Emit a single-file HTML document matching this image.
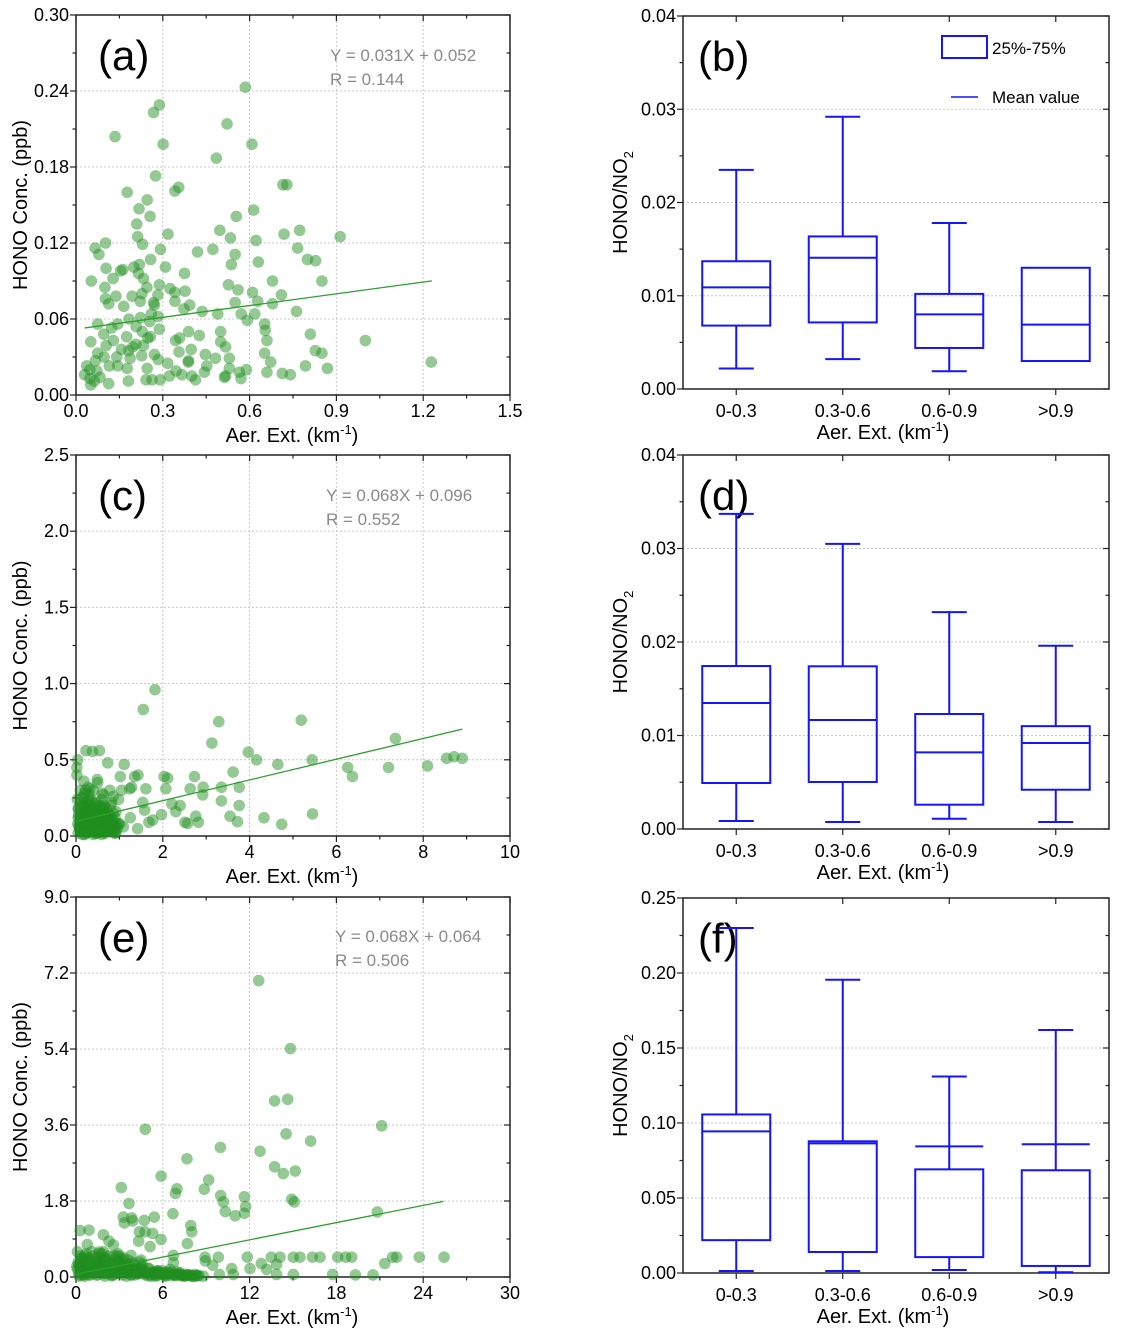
<!DOCTYPE html>
<html><head><meta charset="utf-8"><style>
body{margin:0;background:#fff}
svg{display:block;font-family:"Liberation Sans",sans-serif}
</style></head><body>
<svg id="fig" width="1122" height="1337" viewBox="0 0 1122 1337"></svg>
<script>
// ---------- DATA ----------
const aX=[.585,.288,.268,.135,.301,.522,.608,.485,.275,.355,.342,.177,.715,.729,.246,.218,.256,.614,.554,.210,.497,.773,.318,.719,.213,.913,.534,.622,.230,.102,.066,.292,.766,.079,.420,.473,.550,.258,.800,.828,.630,.537,.162,.200,.219,.309,.104,.154,.375,.216,.128,.233,.053,.679,.850,.288,.527,.100,.245,.325,.560,.377,.610,.710,.194,.228,.283,.138,.342,.102,.222,.268,.342,.550,.628,.679,.113,.165,.271,.393,.373,.436,.260,.762,.571,.618,.490,.284,.223,.183,.592,.255,.075,.144,.652,.123,.208,.288,.096,.229,.810,.500,.389,.654,.175,.257,.358,.426,.129,.051,.660,1.0,.104,.233,.517,.500,.196,.157,.356,.398,.075,.827,.850,.652,.447,.227,.482,.141,.187,.284,.530,.673,.067,.388,1.228,.317,.115,.452,.793,.869,.246,.048,.177,.346,.530,.589,.565,.660,.713,.741,.030,.083,.323,.366,.400,.513,.570,.242,.291,.413,.181,.113,.051,.063,.263,.444,.144,.271,.037,.048,.072,.182,.207,.248,.389,.517,.097,.344];
const aY=[.243,.229,.223,.204,.198,.214,.198,.187,.173,.164,.161,.160,.166,.166,.154,.147,.141,.146,.141,.135,.130,.130,.127,.127,.125,.125,.124,.122,.119,.120,.116,.115,.116,.111,.113,.115,.111,.107,.107,.106,.105,.103,.099,.101,.103,.101,.100,.098,.096,.096,.092,.092,.090,.090,.090,.087,.087,.085,.085,.084,.083,.082,.081,.079,.078,.080,.079,.078,.081,.076,.074,.073,.074,.073,.074,.072,.072,.070,.071,.071,.068,.066,.064,.066,.064,.064,.064,.062,.061,.060,.059,.058,.056,.056,.056,.053,.054,.052,.048,.050,.048,.050,.050,.051,.046,.046,.045,.047,.043,.042,.043,.043,.039,.039,.038,.042,.038,.036,.034,.036,.033,.035,.033,.033,.032,.031,.029,.030,.029,.028,.029,.026,.027,.026,.026,.025,.023,.023,.023,.021,.021,.020,.021,.019,.021,.020,.018,.018,.017,.016,.016,.014,.015,.016,.015,.014,.013,.012,.012,.012,.011,.009,.008,.011,.012,.018,.023,.032,.023,.013,.019,.035,.040,.045,.027,.015,.030,.043];
const cX=[1.82,1.55,3.29,5.19,7.36,3.13,.23,.38,.54,3.97,4.16,4.65,5.44,.73,1.11,6.26,6.37,7.20,8.10,8.54,8.71,8.90,3.62,1.35,1.43,1.02,2.03,2.11,2.73,.49,1.28,1.61,2.07,2.63,2.93,3.35,3.76,1.24,.78,.32,2.92,.63,.86,.98,3.35,1.54,2.21,2.40,3.76,1.58,2.30,1.97,3.55,5.45,4.33,2.76,1.25,1.77,1.68,2.51,2.57,2.82,3.72,4.74,1.42,1.01,1.09,
 .05,.08,.1,.12,.15,.18,.2,.22,.25,.28,.3,.32,.35,.38,.4,.42,.45,.48,.5,.52,.55,.58,.6,.62,.65,.68,.7,.72,.75,.78,.8,.85,.9,.95,.1,.15,.2,.3,.35,.45,.55,.6,.7,.8,.25,.4,.6,.15,.9,.05,.05,.3,.5,.65,.2,.28,.22,.1,.4,.5,.6,.18,
 .06,.09,.13,.16,.19,.23,.26,.29,.33,.36,.39,.43,.46,.49,.53,.56,.59,.63,.66,.69,.73,.76,.79,.83,.86,.89,.93,.07,.11,.14,.17,.21,.24,.27,.31,.34,.37,.41,.44,.47,.51,.54,.57,.61,.64,.67,.71,.74,.77,.81,.84,.04,.12,.2,.28,.36,.44,.52,.6,.68,.76,.84,.92,.16,.24,.32,.4,.48,.56,.64,.72,
 .08,.14,.2,.26,.32,.38,.44,.5,.56,.62,.68,.74,.8,.86,.92,.1,.17,.24,.31,.38,.45,.52,.59,.66,.73,.8,.87,.12,.22,.32,.42,.52,.62,.72,.82,.06,.18,.3,.42,.54,.66,.78,.9,.98,1.05,.02,.03,.04,.02,.03];
const cY=[.96,.83,.75,.76,.64,.61,.56,.555,.56,.55,.50,.47,.50,.48,.47,.45,.39,.45,.46,.51,.52,.51,.42,.39,.40,.39,.39,.38,.39,.37,.32,.31,.31,.31,.32,.32,.32,.31,.30,.31,.27,.27,.26,.24,.23,.22,.21,.20,.20,.17,.16,.14,.13,.145,.12,.13,.12,.105,.09,.09,.083,.09,.094,.077,.048,.08,.06,
 .02,.05,.1,.15,.08,.03,.12,.18,.06,.1,.15,.2,.04,.09,.13,.17,.07,.02,.11,.15,.05,.09,.13,.17,.03,.08,.12,.06,.1,.14,.04,.08,.12,.05,.22,.25,.28,.27,.24,.22,.2,.24,.18,.2,.02,.01,.01,.01,.02,.12,.18,.05,.02,.2,.06,.32,.3,.3,.3,.35,.28,.36,
 .14,.04,.19,.11,.05,.09,.15,.03,.12,.07,.18,.1,.02,.14,.08,.19,.06,.11,.16,.02,.09,.13,.05,.1,.15,.04,.08,.07,.03,.21,.12,.16,.08,.2,.03,.12,.17,.06,.1,.16,.13,.04,.11,.07,.19,.12,.04,.14,.09,.03,.11,.08,.06,.01,.23,.16,.09,.03,.14,.06,.1,.07,.02,.26,.22,.23,.18,.21,.16,.14,
 .1,.06,.13,.04,.1,.07,.12,.05,.09,.11,.04,.08,.1,.05,.07,.16,.12,.08,.14,.1,.06,.13,.09,.04,.11,.07,.05,.02,.03,.02,.03,.02,.03,.02,.04,.22,.18,.2,.16,.19,.15,.13,.1,.06,.08,.3,.4,.24,.5,.45];
const eX=[12.63,14.82,13.73,14.63,4.79,21.13,14.52,16.22,9.98,12.72,7.67,13.73,14.33,15.16,5.88,9.17,3.13,8.87,6.98,6.87,3.66,10.0,10.18,11.64,11.73,10.32,11.0,11.64,14.91,15.09,20.83,3.27,3.85,3.34,3.92,4.72,5.41,6.70,.28,.90,1.89,2.28,2.58,.78,4.38,4.78,4.33,5.30,5.12,5.88,7.93,8.0,7.70,1.61,2.81,3.80,6.73,8.92,9.84,11.84,13.5,14.1,15.02,15.48,16.34,16.87,18.09,18.64,19.06,21.89,22.17,23.73,25.44,21.34,12.81,13.18,13.87,9.45,8.94,10.76,12.03,9.91,17.74,19.31,20.53,15.02,13.87,10.87,6.73,5.69,
 .2,.4,.6,.8,1,1.2,1.4,1.6,1.8,2,2.2,2.4,2.6,2.8,3,3.2,3.4,3.6,3.8,4,4.2,4.5,4.8,5,5.3,5.6,6,6.3,6.6,7,7.3,7.6,8,8.4,8.8,.1,.3,.5,.7,.9,1.1,1.3,1.5,1.7,1.9,2.1,2.3,2.5,2.7,2.9,3.1,3.3,3.5,3.7,3.9,4.1,4.4,4.7,5.2,5.5,5.8,6.2,6.8,7.2,7.8,8.2,.3,.6,.15,.45,1.6,2.2,3,4.6,.05,
 .25,.55,.85,1.15,1.45,1.75,2.05,2.35,2.65,2.95,3.25,3.55,3.85,4.15,4.45,4.75,5.05,5.35,5.65,5.95,6.25,6.55,6.85,7.15,7.45,7.75,8.05,8.35,.5,1,1.5,2,2.5,3,3.5,4,4.5,5,5.5,6,6.5,7,7.5,.35,.75,1.25,1.85,2.45,3.05,3.65,4.25,.2,.6,1.0,1.4,1.8,2.6,3.4,
 .1,.4,.7,1.0,1.3,1.6,1.9,2.2,2.5,2.8,3.1,3.4,3.7,4.0,4.3,4.6,4.9,5.2,5.5,5.8,6.1,6.4,6.7,7.0,7.3,7.6,7.9,8.2,8.5,.2,.8,1.4,2.0,2.6,3.2,3.8,4.4,5.0,5.6,6.2,.5,1.1,1.7,2.3,2.9,3.5,.3,.9,1.5,2.1];
const eY=[7.02,5.41,4.17,4.21,3.50,3.58,3.39,3.22,3.07,2.98,2.80,2.61,2.45,2.51,2.39,2.30,2.12,2.08,2.09,1.98,1.74,1.93,1.78,1.90,1.67,1.55,1.45,1.51,1.84,1.78,1.54,1.42,1.40,1.28,1.33,1.34,1.42,1.50,1.10,1.11,1.00,.85,.76,.77,1.07,1.07,.85,1.03,.72,.89,1.22,1.07,.79,.59,.50,.51,.51,.47,.47,.47,.47,.47,.47,.47,.47,.47,.47,.47,.47,.47,.47,.47,.47,.32,.32,.18,.30,.28,.38,.20,.20,.06,.06,.05,.05,.06,.06,.06,.34,.14,
 .1,.3,.5,.2,.4,.1,.35,.55,.2,.45,.1,.3,.5,.15,.35,.05,.25,.4,.1,.3,.15,.25,.05,.2,.1,.15,.05,.12,.03,.08,.03,.06,.02,.04,.02,.6,.5,.2,.55,.05,.6,.25,.05,.4,.6,.25,.5,.05,.35,.55,.2,.45,.1,.2,.35,.05,.1,.15,.02,.05,.1,.02,.05,.1,.05,.06,.05,.02,.35,.45,.3,.35,.08,.3,.25,
 .25,.4,.12,.5,.22,.45,.08,.38,.18,.42,.12,.3,.05,.25,.18,.08,.2,.12,.04,.15,.08,.1,.04,.06,.03,.05,.02,.03,.05,.15,.28,.02,.2,.5,.02,.15,.4,.1,.02,.1,.18,.12,.02,.45,.15,.3,.08,.03,.2,.25,.08,.3,.35,.05,.45,.55,.12,.15,.18,
 .2,.15,.3,.1,.25,.2,.15,.3,.1,.25,.2,.12,.18,.08,.15,.1,.06,.12,.08,.05,.1,.06,.04,.05,.03,.04,.02,.03,.02,.4,.05,.45,.05,.4,.05,.35,.03,.08,.04,.06,.3,.4,.1,.35,.3,.25,.45,.15,.2,.1];
const boxCats=["0-0.3","0.3-0.6","0.6-0.9",">0.9"];
const bLow=[.0022,.0032,.0019,.0030], bQ1=[.0068,.00714,.0044,.0030], bMean=[.0109,.01407,.0080,.0069], bQ3=[.0137,.01636,.0102,.0130], bHigh=[.0235,.0292,.0178,.0130];
const dLow=[.00086,.00075,.0011,.00075], dQ1=[.00492,.00503,.0026,.0042], dMean=[.01348,.01166,.0082,.0092], dQ3=[.01743,.0174,.0123,.0110], dHigh=[.0337,.0305,.0232,.0196];
const fLow=[.0013,.0013,.002,.0005], fQ1=[.0219,.014,.0106,.0047], fMean=[.0944,.0864,.0844,.0858], fQ3=[.1057,.0878,.0691,.0685], fHigh=[.230,.1955,.131,.162];
const aTicksY=["0.00","0.06","0.12","0.18","0.24","0.30"], aTicksX=["0.0","0.3","0.6","0.9","1.2","1.5"];
const cTicksY=["0.0","0.5","1.0","1.5","2.0","2.5"], cTicksX=["0","2","4","6","8","10"];
const eTicksY=["0.0","1.8","3.6","5.4","7.2","9.0"], eTicksX=["0","6","12","18","24","30"];
const bTicksY=["0.00","0.01","0.02","0.03","0.04"], fTicksY=["0.00","0.05","0.10","0.15","0.20","0.25"];

// ---------- DRAW ----------
const svg=document.getElementById('fig');
const NS='http://www.w3.org/2000/svg';
function mk(tag,attrs,parent,text){const e=document.createElementNS(NS,tag);for(const k in attrs)e.setAttribute(k,attrs[k]);if(text!==undefined)e.textContent=text;(parent||svg).appendChild(e);return e;}

function axes(P,ticksX,ticksY,gridX,id){
  const g=mk('g',{});
  
  
  const nY=ticksY.length-1;
  for(let i=0;i<=nY*2;i++){
    const y=P.y0+(P.y1-P.y0)*i/(nY*2), major=i%2==0, L=major?6:3.5;
    if(major&&i>0&&i<nY*2) mk('line',{x1:P.x0,x2:P.x1,y1:y,y2:y,stroke:'#c8c8c8','stroke-dasharray':'2,2','stroke-width':1},g);
    mk('line',{x1:P.x0-L,x2:P.x0,y1:y,y2:y,stroke:'#222','stroke-width':1.2},g);
    mk('line',{x1:P.x1-L,x2:P.x1,y1:y,y2:y,stroke:'#222','stroke-width':1.2},g);
    if(major){const t=mk('text',{x:P.x0-7,y:y+6,'text-anchor':'end','font-size':18},g,ticksY[i/2]);
      
      }
  }
  if(ticksX){
    const nX=ticksX.length-1;
    for(let i=0;i<=nX*2;i++){
      const x=P.x0+(P.x1-P.x0)*i/(nX*2), major=i%2==0, L=major?6:3.5;
      if(gridX&&major&&i>0&&i<nX*2) mk('line',{x1:x,x2:x,y1:P.y0,y2:P.y1,stroke:'#c8c8c8','stroke-dasharray':'2,2','stroke-width':1},g);
      mk('line',{x1:x,x2:x,y1:P.y0,y2:P.y0+L,stroke:'#222','stroke-width':1.2},g);
      mk('line',{x1:x,x2:x,y1:P.y1,y2:P.y1+L,stroke:'#222','stroke-width':1.2},g);
      if(major){const t=mk('text',{x:x,y:P.y0+22,'text-anchor':'middle','font-size':18},g,ticksX[i/2]);
        
        }
    }
  }
  mk('rect',{x:P.x0,y:P.y1,width:P.x1-P.x0,height:P.y0-P.y1,fill:'none',stroke:'#222','stroke-width':1.5},g);
}
function xTitle(cx,y,id){
  const t=mk('text',{x:cx,y:y,'text-anchor':'middle','font-size':20});
  
  
  t.appendChild(document.createTextNode('Aer. Ext. (km'));
  mk('tspan',{dy:-8,'font-size':13},t,'-1');
  mk('tspan',{dy:8},t,')');
}
function panelLabel(x,y,s){
  const t=mk('text',{x:x,y:y,'font-size':42},null,s);
  
  
}
function scatter(P,X,Y,xmax,ymax,ticksX,ticksY,slope,icpt,fitEnd,eq,id,lbl){
  const sx=v=>P.x0+(P.x1-P.x0)*v/xmax, sy=v=>P.y0-(P.y0-P.y1)*v/ymax;
  axes(P,ticksX,ticksY,true,id);
  const g=mk('g',{});
  
  
  const n=Math.min(X.length,Y.length);
  for(let i=0;i<n;i++){
    const c=mk('circle',{cx:sx(X[i]),cy:sy(Y[i]),r:5.8,fill:'#1f8f1f','fill-opacity':0.48},g);
    
    
  }
  const ln=mk('line',{x1:sx(fitEnd[0]),y1:sy(icpt+slope*fitEnd[0]),x2:sx(fitEnd[1]),y2:sy(icpt+slope*fitEnd[1]),stroke:'#2ca02c','stroke-width':1.3});
  
  
  const t1=mk('text',{x:eq[0],y:eq[1],'font-size':17,fill:'#8a8a8a'},null,eq[2]);
  
  
  const t2=mk('text',{x:eq[0],y:eq[1]+24,'font-size':17,fill:'#8a8a8a'},null,eq[3]);
  
  
  const yt=mk('text',{transform:`translate(27,${(P.y0+P.y1)/2}) rotate(-90)`,'text-anchor':'middle','font-size':20},null,'HONO Conc. (ppb)');
  
  
  xTitle(292,P.y0+47,id);
  panelLabel(98,P.y1+55,lbl);
}
function boxes(P,ymax,ticksY,lo,q1,mn,q3,hi,id,lbl){
  const sy=v=>P.y0-(P.y0-P.y1)*v/ymax;
  const step=(P.x1-P.x0)/4;
  axes(P,null,ticksY,false,id);
  panelLabel(698,P.y1+55,lbl);
  const g=mk('g',{});
  
  
  for(let i=0;i<4;i++){
    const cx=P.x0+step*(i+0.5);
    mk('line',{x1:cx,x2:cx,y1:P.y0,y2:P.y0+6,stroke:'#222','stroke-width':1.2},g);
    mk('line',{x1:cx,x2:cx,y1:P.y1,y2:P.y1+6,stroke:'#222','stroke-width':1.2},g);
    const tl=mk('text',{x:cx,y:P.y0+28,'text-anchor':'middle','font-size':18},g,boxCats[i]);
    
    
    const st={stroke:'#1414ff','stroke-width':2,fill:'none'};
    mk('line',Object.assign({x1:cx,x2:cx,y1:sy(hi[i]),y2:sy(q3[i])},st),g);
    mk('line',Object.assign({x1:cx,x2:cx,y1:sy(q1[i]),y2:sy(lo[i])},st),g);
    if(hi[i]>q3[i]) mk('line',Object.assign({x1:cx-17.5,x2:cx+17.5,y1:sy(hi[i]),y2:sy(hi[i])},st),g);
    if(lo[i]<q1[i]) mk('line',Object.assign({x1:cx-17.5,x2:cx+17.5,y1:sy(lo[i]),y2:sy(lo[i])},st),g);
    const r=mk('rect',Object.assign({x:cx-34,y:sy(q3[i]),width:68,height:sy(q1[i])-sy(q3[i])},st),g);
    
    
    const m=mk('line',Object.assign({x1:cx-34,x2:cx+34,y1:sy(mn[i]),y2:sy(mn[i])},st),g);
    
    
  }
  const yt=mk('text',{transform:`translate(627,${(P.y0+P.y1)/2}) rotate(-90)`,'text-anchor':'middle','font-size':20},null);
  
  
  yt.appendChild(document.createTextNode('HONO/NO'));
  mk('tspan',{dy:6,'font-size':13},yt,'2');
  xTitle(883,P.y0+50,id);
}

const PA={x0:76,x1:510,y0:395,y1:15}, PC={x0:76,x1:510,y0:836,y1:455}, PE={x0:76,x1:510,y0:1277,y1:897};
const PB={x0:683,x1:1109,y0:389,y1:16}, PD={x0:683,x1:1109,y0:829,y1:455}, PF={x0:683,x1:1109,y0:1273,y1:898};

scatter(PA,aX,aY,1.5,0.30,aTicksX,aTicksY,0.031,0.052,[0.03,1.23],[330,61,'Y = 0.031X + 0.052','R = 0.144'],'panel-a','(a)');
scatter(PC,cX,cY,10,2.5,cTicksX,cTicksY,0.068,0.096,[0.0,8.9],[326,501,'Y = 0.068X + 0.096','R = 0.552'],'panel-c','(c)');
scatter(PE,eX,eY,30,9.0,eTicksX,eTicksY,0.068,0.064,[0.0,25.4],[335,942,'Y = 0.068X + 0.064','R = 0.506'],'panel-e','(e)');
boxes(PB,0.04,bTicksY,bLow,bQ1,bMean,bQ3,bHigh,'panel-b','(b)');
boxes(PD,0.04,bTicksY,dLow,dQ1,dMean,dQ3,dHigh,'panel-d','(d)');
boxes(PF,0.25,fTicksY,fLow,fQ1,fMean,fQ3,fHigh,'panel-f','(f)');

// legend
const lg=mk('g',{});


mk('rect',{x:942,y:36,width:45,height:22,fill:'none',stroke:'#1414ff','stroke-width':2},lg);
mk('text',{x:992,y:54,'font-size':17},lg,'25%-75%');
mk('line',{x1:951,x2:978,y1:97,y2:97,stroke:'#1414ff','stroke-width':1.6},lg);
mk('text',{x:992,y:103,'font-size':17},lg,'Mean value');
</script>
</body></html>
